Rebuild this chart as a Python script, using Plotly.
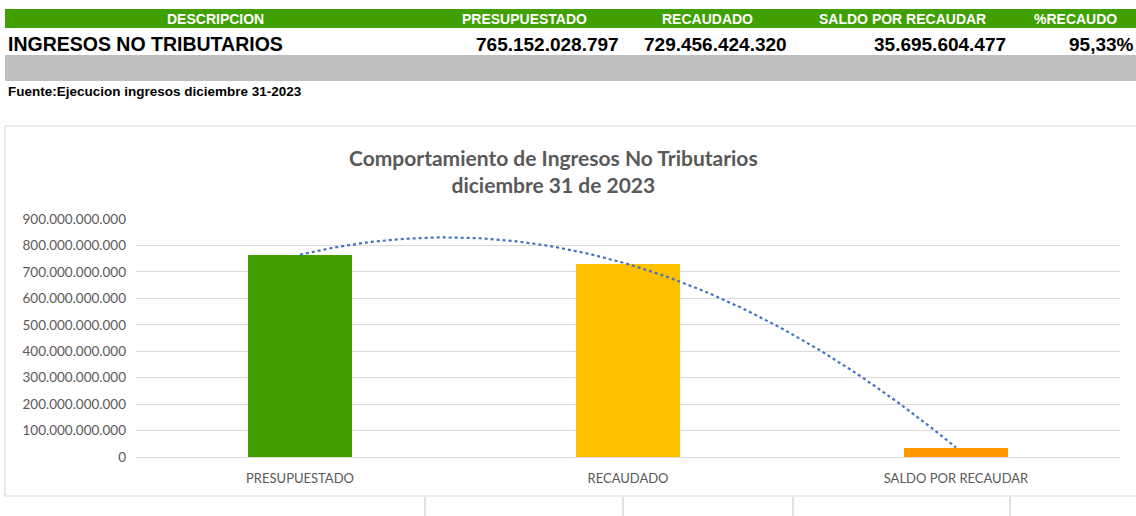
import numpy as np
import plotly.graph_objects as go

# Summary row of the revenue report
row_label = "INGRESOS NO TRIBUTARIOS"
header_labels = ["DESCRIPCION", "PRESUPUESTADO", "RECAUDADO", "SALDO POR RECAUDAR", "%RECAUDO"]
presupuestado = 765152028797
recaudado = 729456424320
saldo = 35695604477

# Chart series
categories = ["PRESUPUESTADO", "RECAUDADO", "SALDO POR RECAUDAR"]
values = [presupuestado, recaudado, saldo]
bar_colors = ["#3FA000", "#FFC000", "#FF9900"]
y_ticks = [i * 100_000_000_000 for i in range(10)]

W, H = 1136, 516
GREY_TXT = "#595959"
BORDER = "#D9D9D9"


def px(x):
    return min(max(x / W, 0.0), 1.0)


def py(y):
    return min(max(1 - y / H, 0.0), 1.0)


def miles(n):
    return f"{n:,}".replace(",", ".")


pct = recaudado / presupuestado * 100
pct_txt = f"{pct:.2f}".replace(".", ",") + "%"

fig = go.Figure()

xs = list(range(len(categories)))
fig.add_trace(go.Bar(
    x=xs, y=values, width=0.315,
    marker=dict(color=bar_colors, line=dict(width=0)),
    hoverinfo="skip", showlegend=False,
))

# Second-order polynomial trend through the three bars
coef = np.polyfit(np.array(xs, dtype=float), np.array(values, dtype=float), 2)
tx = np.linspace(0, len(categories) - 1, 120)
fig.add_trace(go.Scatter(
    x=tx, y=np.polyval(coef, tx), mode="lines",
    line=dict(color="#4472C4", width=2.2, dash="dot"),
    hoverinfo="skip", showlegend=False,
))

shapes = []
annotations = []

# Green header band and grey spacer band of the table
shapes.append(dict(type="rect", xref="paper", yref="paper",
                   x0=px(5), x1=px(1136), y0=py(28), y1=py(9),
                   fillcolor="#3FA000", line=dict(width=0), layer="below"))
shapes.append(dict(type="rect", xref="paper", yref="paper",
                   x0=px(5), x1=px(1136), y0=py(81), y1=py(55),
                   fillcolor="#BFBFBF", line=dict(width=0), layer="below"))

# Chart frame: top, left and bottom edges (right edge runs past the sheet view)
for x0, y0, x1, y1 in [(5, 126, 1136, 126), (5, 126, 5, 496), (5, 496, 1136, 496)]:
    shapes.append(dict(type="line", xref="paper", yref="paper",
                       x0=px(x0), x1=px(x1), y0=py(y0), y1=py(y1),
                       line=dict(color=BORDER, width=1.2), layer="below"))
# Sheet cell borders under the chart
for cx in [425, 623, 793, 1010]:
    shapes.append(dict(type="line", xref="paper", yref="paper",
                       x0=px(cx), x1=px(cx), y0=py(497), y1=py(516),
                       line=dict(color=BORDER, width=1.5)))

HDR_FONT = "Liberation Sans, Arial, sans-serif"
header_x = [215, 524, 707, 902, 1075]
for lab, cx in zip(header_labels, header_x):
    annotations.append(dict(xref="paper", yref="paper", x=px(cx), y=py(19),
                            text=f"<b>{lab}</b>", showarrow=False,
                            xanchor="center", yanchor="middle",
                            font=dict(family=HDR_FONT, size=14, color="white")))

annotations.append(dict(xref="paper", yref="paper", x=px(6), y=py(44),
                        text=f"<b>{row_label}</b>", showarrow=False,
                        xanchor="left", yanchor="middle",
                        font=dict(family=HDR_FONT, size=19.5, color="black")))
for txt, rx in zip([miles(presupuestado), miles(recaudado), miles(saldo), pct_txt],
                   [621, 789, 1008, 1136]):
    annotations.append(dict(xref="paper", yref="paper", x=px(rx), y=py(44),
                            text=f"<b>{txt}</b>", showarrow=False,
                            xanchor="right", yanchor="middle",
                            font=dict(family=HDR_FONT, size=19, color="black")))

annotations.append(dict(xref="paper", yref="paper", x=px(6), y=py(92),
                        text="<b>Fuente:Ejecucion ingresos diciembre 31-2023</b>",
                        showarrow=False, xanchor="left", yanchor="middle",
                        font=dict(family=HDR_FONT, size=13.5, color="black")))

CHART_FONT = "Lato, Carlito, Calibri, sans-serif"
annotations.append(dict(xref="paper", yref="paper", x=px(553), y=py(171),
                        text="<b>Comportamiento de Ingresos No Tributarios<br>diciembre 31 de 2023</b>",
                        showarrow=False, xanchor="center", yanchor="middle",
                        font=dict(family=CHART_FONT, size=21, color=GREY_TXT)))

fig.update_layout(
    width=W, height=H,
    margin=dict(l=0, r=0, t=0, b=0, pad=0, autoexpand=False),
    paper_bgcolor="white", plot_bgcolor="white",
    separators=",.",
    bargap=0,
    shapes=shapes, annotations=annotations,
    xaxis=dict(domain=[px(136), px(1120)], range=[-0.5, len(categories) - 0.5],
               tickvals=xs, ticktext=categories, showgrid=False, zeroline=False,
               showline=False, ticks="", fixedrange=True, ticklabelstandoff=12,
               automargin=False,
               tickfont=dict(family=CHART_FONT, size=13, color=GREY_TXT)),
    yaxis=dict(domain=[py(457), py(219)], range=[0, y_ticks[-1]],
               tickvals=y_ticks, tickformat=",d", showgrid=True,
               gridcolor=BORDER, gridwidth=1, zeroline=True, zerolinecolor=BORDER,
               zerolinewidth=1, showline=False, ticks="", fixedrange=True,
               ticklabelstandoff=9, automargin=False,
               tickfont=dict(family=CHART_FONT, size=13.5, color=GREY_TXT)),
)

fig.write_html("out.html", config={"displayModeBar": False})
